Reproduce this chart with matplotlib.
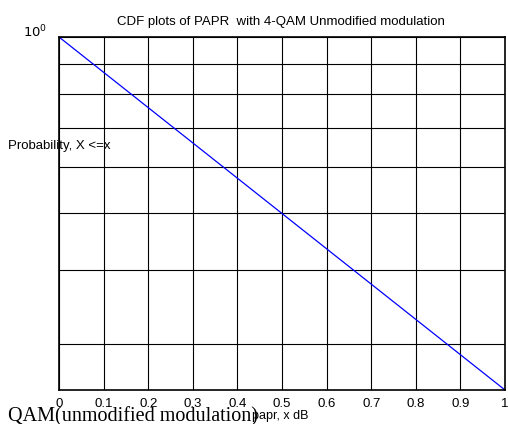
import matplotlib
matplotlib.use('Agg')
import matplotlib.pyplot as plt
from matplotlib.ticker import FixedLocator, NullFormatter

# data
papr = [0, 1]
cdf = [1, 0.25]
xticks = [0, 0.1, 0.2, 0.3, 0.4, 0.5, 0.6, 0.7, 0.8, 0.9, 1]
xticklabels = ['0', '0.1', '0.2', '0.3', '0.4', '0.5', '0.6', '0.7', '0.8', '0.9', '1']
ygrid = [0.3, 0.4, 0.5, 0.6, 0.7, 0.8, 0.9]

plt.rcParams['font.family'] = ['Liberation Sans', 'DejaVu Sans']

fig = plt.figure(figsize=(5.08, 4.24), dpi=100)
W, H = 508, 424
ax = fig.add_axes([59 / W, 1 - 390 / H, (505 - 59) / W, (390 - 37) / H])

ax.semilogy(papr, cdf, color='blue', linewidth=0.9)
ax.set_xlim(0, 1)
ax.set_ylim(0.25, 1)

ax.set_xticks(xticks)
ax.set_xticklabels(xticklabels, fontsize=9.5)
ax.yaxis.set_major_locator(FixedLocator([1]))
ax.yaxis.set_minor_locator(FixedLocator(ygrid))
ax.yaxis.set_minor_formatter(NullFormatter())
ax.set_yticklabels([])
ax.tick_params(axis='both', which='both', length=0)
ax.tick_params(axis='x', pad=5.5)

ax.grid(True, which='both', color='black', linewidth=0.8)
for s in ax.spines.values():
    s.set_linewidth(1.2)

# texts placed in pixel positions
fig.text(281 / W, 1 - 22 / H, 'CDF plots of PAPR  with 4-QAM Unmodified modulation',
         ha='center', va='center', fontsize=9.5)
fig.text(8 / W, 1 - 146 / H, 'Probability, X <=x', ha='left', va='center', fontsize=9.5)
fig.text(47 / W, 1 - 37 / H, r'$10^0$', ha='right', va='baseline', fontsize=9.5,
         math_fontfamily='custom')
fig.text(280 / W, 1 - 416.5 / H, 'papr, x dB', ha='center', va='center', fontsize=9)
fig.text(8 / W, 1 - 421 / H, 'QAM(unmodified modulation)', ha='left', va='baseline',
         fontsize=14.5, family='Liberation Serif')

fig.savefig('out.png', dpi=100)
